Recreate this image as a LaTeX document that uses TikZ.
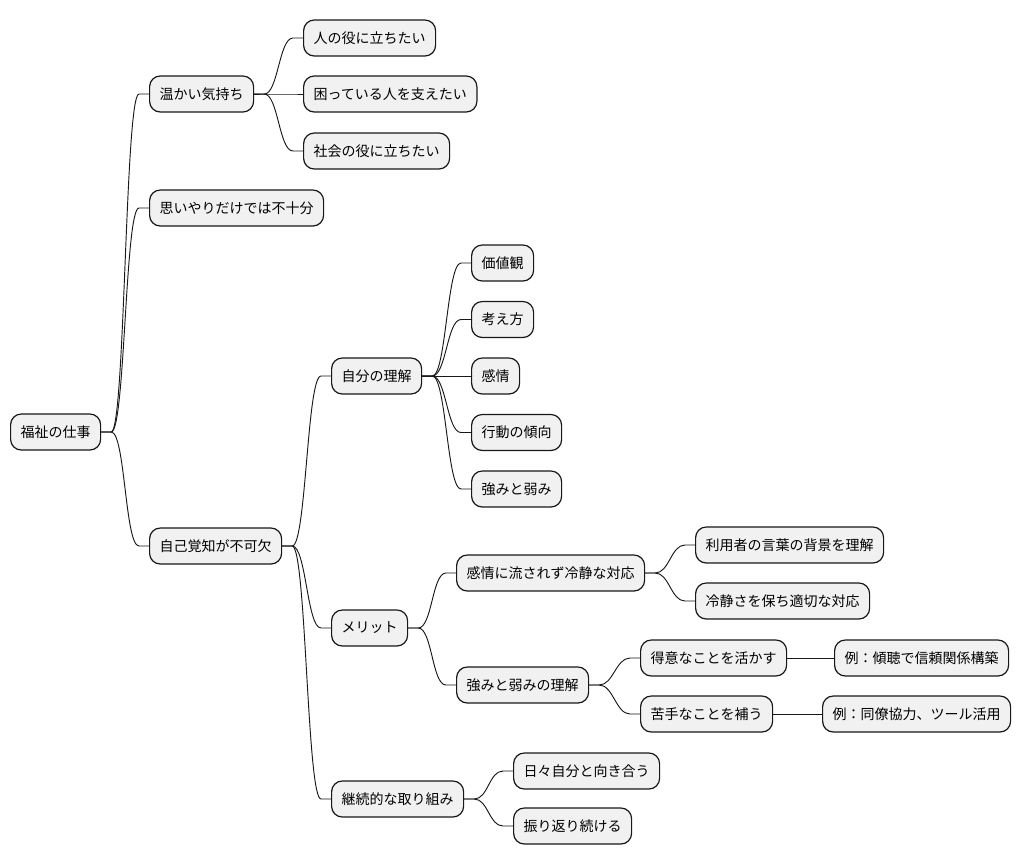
\documentclass[tikz,border=0pt]{standalone}
\usepackage{fontspec}
\newfontfamily\jp{Noto Sans CJK JP}
\usetikzlibrary{positioning,calc}
\definecolor{boxfill}{HTML}{F1F1F1}
\definecolor{ink}{HTML}{181818}
\tikzset{
  topic/.style={draw=ink, fill=boxfill, line width=0.9pt, rounded corners=8pt,
    anchor=west, minimum height=27pt, inner xsep=7.5pt, inner ysep=0pt,
    font=\jp\fontsize{10.5}{12}\selectfont, text=black},
  branch/.style={draw=ink, line width=0.7pt}
}
\newcommand\link[2]{%
  \path (#1.east) ++(10,0) coordinate (s) (#2.west) ++(-10,0) coordinate (e);
  \draw[branch] (#1.east) -- (s) .. controls +(14,0) and +(-14,0) .. (e) -- (#2.west);}

\begin{document}
\begin{tikzpicture}[x=0.75pt, y=-0.75pt]
  \useasboundingbox (0,0) rectangle (1020,865);
  \node[topic] (r) at (10,432) {福祉の仕事};

  \node[topic] (a) at (149,94) {温かい気持ち};
  \node[topic] (a1) at (303,38) {人の役に立ちたい};
  \node[topic] (a2) at (303,94) {困っている人を支えたい};
  \node[topic] (a3) at (303,151) {社会の役に立ちたい};

  \node[topic] (b) at (149,208) {思いやりだけでは不十分};

  \node[topic] (c) at (149,546) {自己覚知が不可欠};
  \node[topic] (c1) at (331,376) {自分の理解};
  \foreach \t [count=\i] in {価値観,考え方,感情,行動の傾向,強みと弱み} {
    \node[topic] (c1\i) at (471,{206.5+56.5*\i}) {\t};
    \link{c1}{c1\i}
  }
  \node[topic] (c2) at (331,628) {メリット};
  \node[topic] (c21) at (456,573) {感情に流されず冷静な対応};
  \node[topic] (c211) at (695,545) {利用者の言葉の背景を理解};
  \node[topic] (c212) at (695,601) {冷静さを保ち適切な対応};
  \node[topic] (c22) at (456,685) {強みと弱みの理解};
  \node[topic] (c221) at (640,658) {得意なことを活かす};
  \node[topic] (c2211) at (834,658) {例：傾聴で信頼関係構築};
  \node[topic] (c222) at (640,714) {苦手なことを補う};
  \node[topic] (c2221) at (822,714) {例：同僚協力、ツール活用};
  \node[topic] (c3) at (331,799) {継続的な取り組み};
  \node[topic] (c31) at (513,771) {日々自分と向き合う};
  \node[topic] (c32) at (513,826) {振り返り続ける};

  \link{r}{a} \link{r}{b} \link{r}{c}
  \link{a}{a1} \link{a}{a2} \link{a}{a3}
  \link{c}{c1} \link{c}{c2} \link{c}{c3}
  \link{c2}{c21} \link{c2}{c22}
  \link{c21}{c211} \link{c21}{c212}
  \link{c22}{c221} \link{c22}{c222}
  \link{c221}{c2211} \link{c222}{c2221}
  \link{c3}{c31} \link{c3}{c32}
\end{tikzpicture}
\end{document}
